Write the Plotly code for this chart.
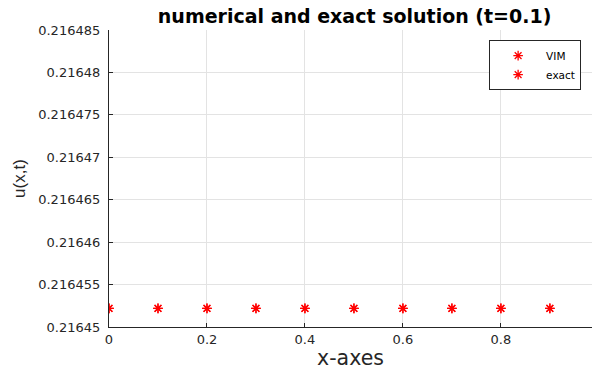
import plotly.graph_objects as go

# Grid points and solution values at t = 0.1
x_vals = [0, 0.1, 0.2, 0.3, 0.4, 0.5, 0.6, 0.7, 0.8, 0.9]
u_vim = [0.2164522] * 10
u_exact = [0.2164522] * 10

y_ticks = [0.21645, 0.216455, 0.21646, 0.216465, 0.21647, 0.216475, 0.21648, 0.216485]
y_labels = ["0.21645", "0.216455", "0.21646", "0.216465", "0.21647", "0.216475", "0.21648", "0.216485"]
x_ticks = [0, 0.2, 0.4, 0.6, 0.8]
x_labels = ["0", "0.2", "0.4", "0.6", "0.8"]

FONT = "DejaVu Sans, Arial, sans-serif"
marker = dict(symbol="asterisk-open", size=8, line=dict(color="#ff0000", width=1.3), color="#ff0000")

fig = go.Figure()
fig.add_trace(go.Scatter(x=x_vals, y=u_vim, mode="markers", name="VIM", marker=marker))
fig.add_trace(go.Scatter(x=x_vals, y=u_exact, mode="markers", name="exact", marker=marker))

fig.update_layout(
    width=593, height=373,
    margin=dict(l=109, r=1, t=30, b=46),
    paper_bgcolor="white", plot_bgcolor="white",
    font=dict(family=FONT, color="#262626", size=13),
    title=dict(text="<b>numerical and exact solution (t=0.1)</b>", x=0.598, xanchor="center",
               y=0.955, yanchor="middle",
               font=dict(family="DejaVu Sans, Arial, sans-serif", size=19, color="#000000")),
    legend=dict(x=0.787, y=0.966, xanchor="left", yanchor="top",
                bordercolor="#262626", borderwidth=1, bgcolor="white",
                font=dict(size=10.5, color="#000000"), itemwidth=46, tracegroupgap=0),
    showlegend=True,
)
fig.update_xaxes(
    range=[0, 0.986], tickvals=x_ticks, ticktext=x_labels,
    showgrid=True, gridcolor="#e3e3e3", gridwidth=1, zeroline=False,
    showline=True, linecolor="#262626", linewidth=1.3,
    ticks="inside", ticklen=4, tickcolor="#262626",
    title=dict(text="x-axes", font=dict(size=20.5, color="#262626"), standoff=4),
)
fig.update_yaxes(
    range=[0.21645, 0.216485], tickvals=y_ticks, ticktext=y_labels,
    showgrid=True, gridcolor="#e3e3e3", gridwidth=1, zeroline=False,
    showline=True, linecolor="#262626", linewidth=1.3,
    ticks="inside", ticklen=4, tickcolor="#262626", ticklabelstandoff=5,
    title=dict(text="u(x,t)", font=dict(family="Liberation Sans, Arial, sans-serif", size=17, color="#262626"),
               standoff=8),
)

fig.write_html("out.html")
